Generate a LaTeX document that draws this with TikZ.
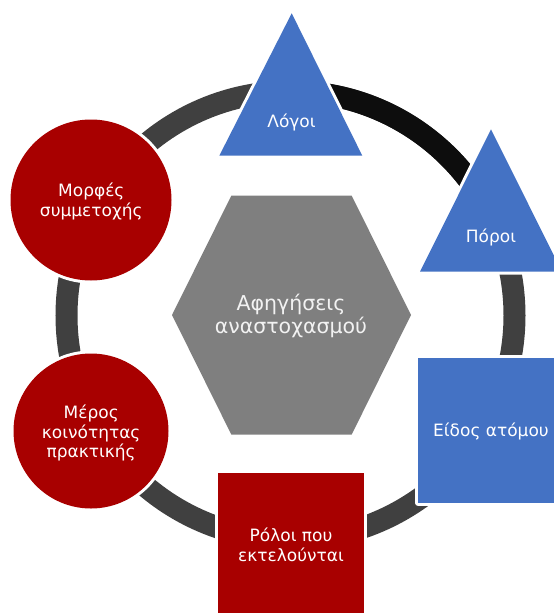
\documentclass[tikz,border=0pt]{standalone}
\usepackage{fontspec}
\setmainfont{DejaVu Sans}
\definecolor{ringgray}{HTML}{404040}
\definecolor{ringblack}{HTML}{0D0D0D}
\definecolor{boxblue}{HTML}{4472C4}
\definecolor{boxred}{HTML}{A80000}
\definecolor{hexgray}{HTML}{7F7F7F}
\definecolor{hextext}{HTML}{F2F2F2}
\begin{document}
\begin{tikzpicture}[x=1pt,y=-1pt,
  halo/.style={preaction={draw=white,line width=6pt,line join=round}},
  ringband/.style={line width=22pt},
  lbl/.style={text=white,font=\fontsize{17}{20}\selectfont,align=center,anchor=base,inner sep=0pt},
  hexlbl/.style={text=hextext,font=\fontsize{20.5}{22.6}\selectfont,align=center,anchor=base,inner sep=0pt}
]
\useasboundingbox (0,0) rectangle (554,613);
\clip (0,0) rectangle (554,613);
\coordinate (c) at (290.5,315.5);
% ring
\draw[ringband,ringgray] (c) circle[radius=224pt];
\draw[ringband,ringblack] ([shift={(88:224pt)}]c) arc[start angle=88,end angle=22,radius=224pt];
% centre hexagon
\path[fill=hexgray] (172,315) -- (231.4,195.5) -- (351.6,195.5) -- (411,315)
   -- (351.6,434.7) -- (231.4,434.7) -- cycle;
\node[hexlbl] (centre) at (291,333.3) {Αφηγήσεις\\αναστοχασμού};
% triangles
\path[halo,fill=boxblue] (291.7,13.3) -- (362.3,155.7) -- (219.3,155.7) -- cycle;
\node[lbl] (logoi) at (291.5,127.7) {Λόγοι};
\path[halo,fill=boxblue] (491,129.3) -- (562,271.7) -- (420,271.7) -- cycle;
\node[lbl] (poroi) at (491,242.7) {Πόροι};
% squares
\path[halo,fill=boxblue] (418.3,358.3) rectangle (564,502.7);
\node[lbl] (eidos) at (491,436.7) {Είδος ατόμου};
\path[halo,fill=boxred] (218.3,473.3) rectangle (364,619);
\node[lbl] (roloi) at (291,561.7) {Ρόλοι που\\εκτελούνται};
% circles
\path[halo,fill=boxred] (91,431) circle[radius=77.5pt];
\node[lbl,font=\fontsize{17}{19.4}\selectfont] (meros) at (91.2,457.7) {Μέρος\\κοινότητας\\πρακτικής};
\path[halo,fill=boxred] (91,200) circle[radius=80.5pt];
\node[lbl] (morfes) at (91.3,216) {Μορφές\\συμμετοχής};
\end{tikzpicture}
\end{document}
